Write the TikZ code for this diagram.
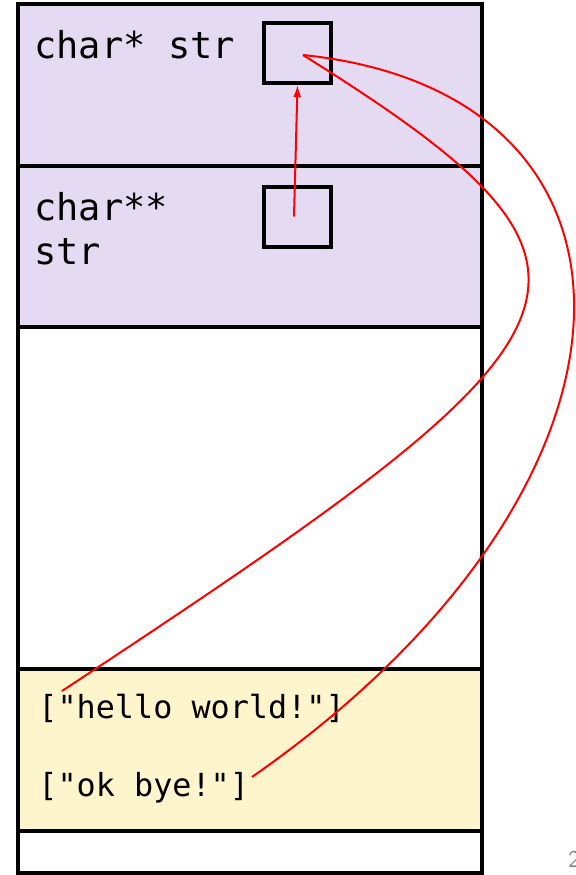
\documentclass[tikz,border=0pt]{standalone}
\usepackage{fontspec}
\setmonofont{DejaVu Sans Mono}
\usepackage{tikz}
\usetikzlibrary{positioning,shapes,arrows,arrows.meta,chains}
\definecolor{stackpurple}{RGB}{228,218,241}
\definecolor{heapyellow}{RGB}{255,245,204}
\tikzset{
	frame/.style={
		rectangle,
		draw,
		line width=2pt,
		minimum width=232pt,
		inner sep=0pt,
		outer sep=0pt
	},
	ptrcell/.style={rectangle, draw, line width=2pt, minimum width=33.5pt, minimum height=30pt, inner sep=0pt},
	varname/.style={anchor=base west, inner sep=0pt, align=left, font=\ttfamily\fontsize{18.5}{22}\selectfont},
	heaptext/.style={anchor=base west, inner sep=0pt, font=\ttfamily\fontsize{15.9}{20}\selectfont},
	link/.style={draw=red, line width=1pt}
}

\begin{document}
\begin{tikzpicture}[x=0.5pt, y=-0.5pt, start chain=going below, node distance=0pt, every on chain/.style={frame}]
			\useasboundingbox (0,0) rectangle (576,875);
			\node [on chain, fill=stackpurple, minimum height=81pt] (strframe) at (250,85) {};
			\node [on chain, fill=stackpurple, minimum height=80.5pt] (ptrframe) {};
			\node [on chain, minimum height=171pt] (freeframe) {};
			\node [on chain, fill=heapyellow, minimum height=81pt] (heapframe) {};
			\node [on chain, minimum height=21pt] (lastframe) {};
			\node [ptrcell] (strcell) at (297.5,53) {};
			\node [ptrcell] (ptrcell) at (297.5,216.5) {};
			\node [varname] (strlabel) at (34,58) {char* str};
			\node [varname] (ptrlabel) at (34,264) {char**\\str};
			\node [heaptext] (hellolabel) at (38,718) {["hello world!"]};
			\node [heaptext] (byelabel) at (38,796) {["ok bye!"]};
			\node [anchor=base west, inner sep=0pt, text=gray, font=\sffamily\fontsize{12}{14}\selectfont] (pagenum) at (568,867) {2};
			\coordinate (strhead) at (303,55);
			\coordinate (helloend) at (62,691);
			\coordinate (byeend) at (252,777);
			\draw [link, -{Latex[length=6pt,width=4pt]}] ([xshift=-1.75pt]ptrcell.center) -- (strcell.south);
			\draw [link] (strhead) .. controls (655,275) and (610,330) .. (helloend);
			\draw [link] (strhead) .. controls (673,93) and (672,484) .. (byeend);
		\end{tikzpicture}
\end{document}
